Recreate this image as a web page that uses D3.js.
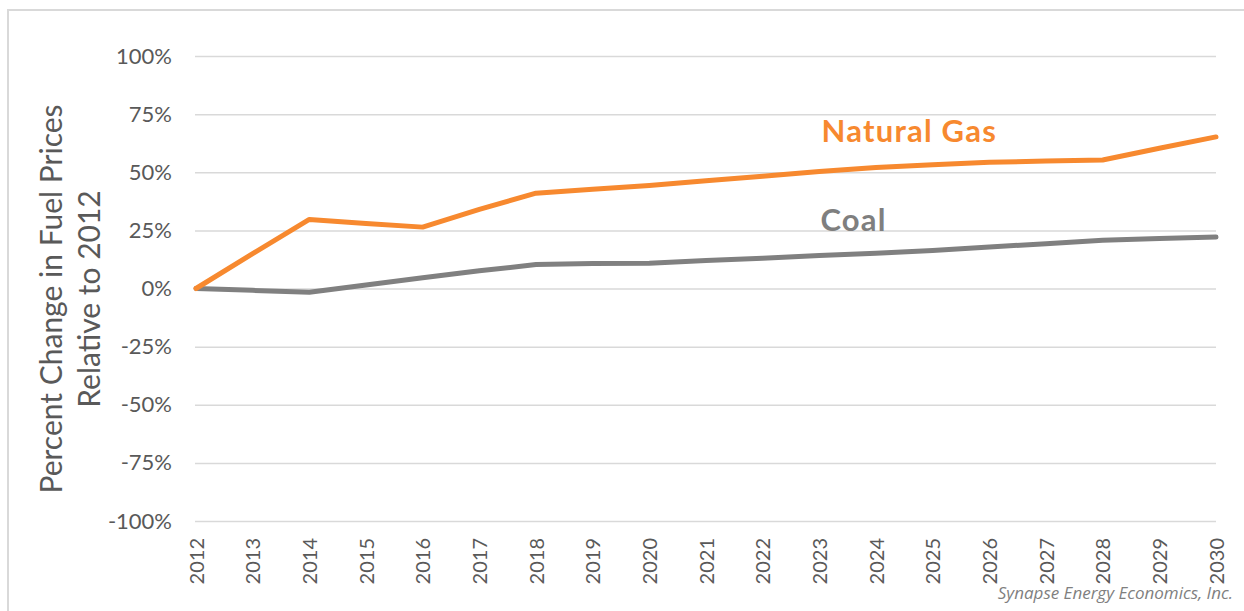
<!DOCTYPE html>
<html>
<head>
<meta charset="utf-8">
<script src="https://cdn.jsdelivr.net/npm/d3@7"></script>
<style>
  html, body { margin: 0; padding: 0; background: #fff; }
  svg { display: block; }
</style>
</head>
<body>
<svg id="chart" width="1244" height="611"></svg>
<script>
// values (fraction change vs 2012)
const years = d3.range(2012, 2031);
const gasValues = [0, 0.15, 0.297, 0.28, 0.264, 0.34, 0.41, 0.427, 0.443, 0.463, 0.483, 0.503, 0.52, 0.532, 0.543, 0.548, 0.553, 0.603, 0.652];
const coalValues = [0, -0.008, -0.016, 0.015, 0.046, 0.076, 0.103, 0.107, 0.109, 0.12, 0.13, 0.142, 0.152, 0.163, 0.179, 0.192, 0.208, 0.215, 0.221];
const yTicks = [-1, -0.75, -0.5, -0.25, 0, 0.25, 0.5, 0.75, 1];

const margin = {top: 56, right: 28, bottom: 90, left: 196};
const W = 1244, H = 611;

const svg = d3.select("#chart");

// outer frame (only top/left show in the picture)
svg.append("rect")
    .attr("x", 8).attr("y", 10)
    .attr("width", 1260).attr("height", 640)
    .attr("fill", "none")
    .attr("stroke", "#d9d9d9")
    .attr("stroke-width", 2);

const x = d3.scaleLinear()
    .domain([2012, 2030])
    .range([margin.left, W - margin.right]);

const y = d3.scaleLinear()
    .domain([-1, 1])
    .range([521, margin.top]);

const pct = d => Math.round(d * 100) + "%";

// y axis with gridlines
svg.append("g")
    .attr("transform", `translate(${margin.left - 1}, 0)`)
    .call(d3.axisLeft(y)
        .tickValues(yTicks)
        .tickFormat(pct)
        .tickSizeInner(-(W - margin.right - margin.left + 1))
        .tickSizeOuter(0)
        .tickPadding(23))
    .call(g => g.select(".domain").remove())
    .call(g => g.selectAll("line")
        .attr("stroke", "#d9d9d9")
        .attr("stroke-width", 1.5))
    .call(g => g.selectAll("text")
        .attr("fill", "#595959")
        .style("font", "22px Lato, sans-serif"));

// x axis: rotated year labels
svg.append("g")
    .attr("transform", `translate(0, ${y(-1)})`)
    .call(d3.axisBottom(x)
        .tickValues(years)
        .tickFormat(d3.format("d"))
        .tickSize(0))
    .call(g => g.select(".domain").remove())
    .call(g => g.selectAll("text")
        .attr("fill", "#595959")
        .style("font", "20px Lato, sans-serif")
        .attr("text-anchor", "end")
        .attr("transform", "rotate(-90)")
        .attr("x", -17)
        .attr("y", 0)
        .attr("dy", "0.35em"));

// axis title
const title = svg.append("text")
    .attr("transform", "translate(0, 299) rotate(-90)")
    .attr("text-anchor", "middle")
    .attr("fill", "#595959")
    .style("font", "30px Lato, sans-serif");
title.append("tspan").attr("x", 0).attr("y", 62).text("Percent Change in Fuel Prices");
title.append("tspan").attr("x", 0).attr("y", 100).text("Relative to 2012");

const line = d3.line()
    .x((d, i) => x(years[i]))
    .y(d => y(d));

svg.append("path")
    .datum(coalValues)
    .attr("fill", "none")
    .attr("stroke", "#808080")
    .attr("stroke-width", 5)
    .attr("stroke-linejoin", "round")
    .attr("stroke-linecap", "round")
    .attr("d", line);

svg.append("path")
    .datum(gasValues)
    .attr("fill", "none")
    .attr("stroke", "#f7892f")
    .attr("stroke-width", 5)
    .attr("stroke-linejoin", "round")
    .attr("stroke-linecap", "round")
    .attr("d", line);

// series labels
svg.append("text")
    .attr("x", x(2023.04)).attr("y", y(0.63))
    .attr("fill", "#f7892f")
    .style("font", "bold 31px Lato, sans-serif")
    .style("letter-spacing", "1.2px")
    .text("Natural Gas");

svg.append("text")
    .attr("x", x(2023.02)).attr("y", y(0.248))
    .attr("fill", "#7f7f7f")
    .style("font", "bold 31px Lato, sans-serif")
    .style("letter-spacing", "1.2px")
    .text("Coal");

// source credit
svg.append("text")
    .attr("x", 1233).attr("y", 599)
    .attr("text-anchor", "end")
    .attr("fill", "#7f7f7f")
    .style("font", "italic 17px 'Open Sans', sans-serif")
    .text("Synapse Energy Economics, Inc.");
</script>
</body>
</html>
